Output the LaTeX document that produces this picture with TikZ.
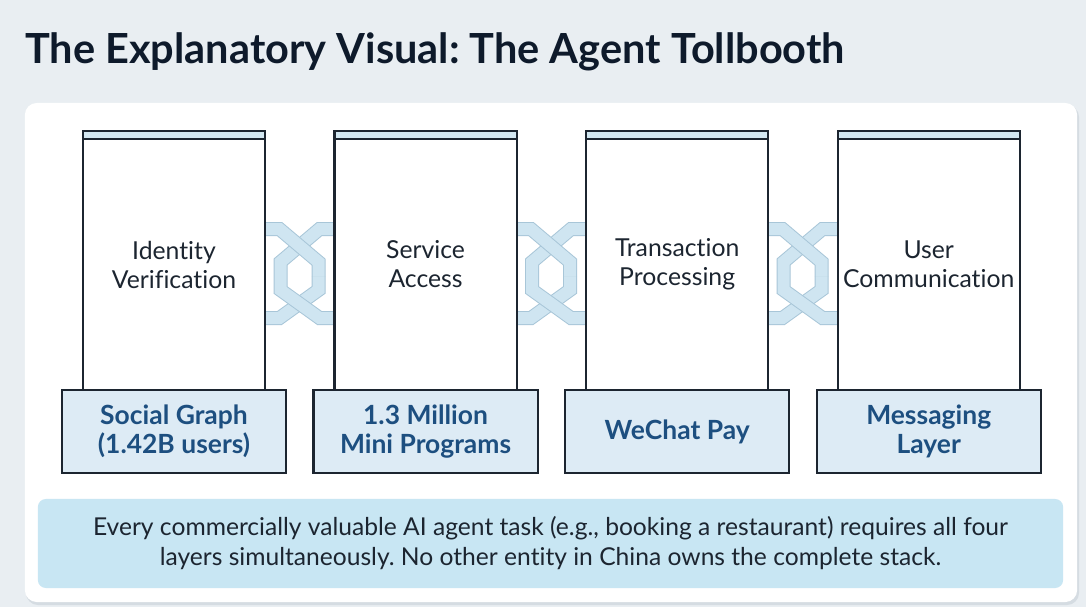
\documentclass[tikz,border=0pt]{standalone}
\usepackage{fontspec}
\setmainfont{Lato}[Ligatures=NoCommon]
\usepackage{tikz}
\usetikzlibrary{positioning}
\definecolor{Fondo}{HTML}{E9EEF2}
\definecolor{Sombra}{HTML}{D5DCE2}
\definecolor{Titulo}{HTML}{0E1A2B}
\definecolor{Tinta}{HTML}{1C2530}
\definecolor{Celeste}{HTML}{D3E8F2}
\definecolor{CelesteBase}{HTML}{DDEBF5}
\definecolor{AzulOscuro}{HTML}{1D4F80}
\definecolor{Cadena}{HTML}{CFE5F1}
\definecolor{CadenaBorde}{HTML}{A8C6D8}
\definecolor{Banda}{HTML}{C8E6F3}
\frenchspacing

\begin{document}
\begin{tikzpicture}[
  x=0.025cm,y=-0.025cm,
  pilar/.style={draw=Tinta,line width=1.5pt,fill=white,minimum width=4.55cm,minimum height=6.275cm,
                inner sep=0pt,align=center,text=Tinta,font=\fontsize{17.6}{20.6}\selectfont},
  tapa/.style={draw=Tinta,line width=1.5pt,fill=Celeste,minimum width=4.55cm,minimum height=0.2cm,inner sep=0pt},
  zocalo/.style={draw=Tinta,line width=1.5pt,fill=CelesteBase,minimum width=5.6cm,minimum height=2.075cm,
                 inner sep=0pt,align=center,text=AzulOscuro,font=\fontsize{18.8}{20.6}\selectfont\bfseries},
  hilo/.style={draw=CadenaBorde,line width=0.35cm,postaction={draw=Cadena,line width=0.3cm}}
]
  \useasboundingbox[fill=Fondo] (0,0) rectangle (1086,607);
  \node[anchor=base west,inner sep=0pt,text=Titulo,font=\fontsize{29.5}{34}\selectfont\bfseries]
    (titulo) at (25,63) {The Explanatory Visual: The Agent Tollbooth};

  \fill[Sombra,rounded corners=0.3cm] (26,105) rectangle (1079,605);
  \node[fill=white,rounded corners=0.3cm,minimum width=26.3cm,minimum height=12.475cm]
    (panel) at (551,352.5) {};

  % eslabones entre pilares
  \begin{scope}[shift={(299.5,0)}]
    \draw[hilo] (19,276)--(19,290)--(-20,318)--(-38,318);
    \draw[hilo] (38,229)--(20,229)--(-19,262)--(-19,290)--(20,318)--(38,318);
    \draw[hilo] (-38,229)--(-20,229)--(19,262)--(19,276);
  \end{scope}
  \begin{scope}[shift={(551,0)}]
    \draw[hilo] (19,276)--(19,290)--(-20,318)--(-38,318);
    \draw[hilo] (38,229)--(20,229)--(-19,262)--(-19,290)--(20,318)--(38,318);
    \draw[hilo] (-38,229)--(-20,229)--(19,262)--(19,276);
  \end{scope}
  \begin{scope}[shift={(802.5,0)}]
    \draw[hilo] (19,276)--(19,290)--(-20,318)--(-38,318);
    \draw[hilo] (38,229)--(20,229)--(-19,262)--(-19,290)--(20,318)--(38,318);
    \draw[hilo] (-38,229)--(-20,229)--(19,262)--(19,276);
  \end{scope}

  \node[pilar] (p1) at (174,264.5) {Identity\\Verification};
  \node[pilar,right=1.685cm of p1] (p2) {Service\\Access};
  \node[pilar,right=1.685cm of p2] (p3) {Transaction\\Processing};
  \node[pilar,right=1.685cm of p3] (p4) {User\\Communication};

  \node[tapa,above=-1.5pt of p1] (t1) {};
  \node[tapa,above=-1.5pt of p2] (t2) {};
  \node[tapa,above=-1.5pt of p3] (t3) {};
  \node[tapa,above=-1.5pt of p4] (t4) {};

  \node[zocalo,below=-1.5pt of p1] (z1) {Social Graph\\(1.42B users)};
  \node[zocalo,below=-1.5pt of p2] (z2) {1.3 Million\\Mini Programs};
  \node[zocalo,below=-1.5pt of p3] (z3) {WeChat Pay};
  \node[zocalo,below=-1.5pt of p4] (z4) {Messaging\\Layer};

  \node[fill=Banda,rounded corners=0.2cm,minimum width=25.625cm,minimum height=2.225cm,align=center,
        text=Tinta,font=\fontsize{17.5}{21.3}\selectfont] (nota) at (550.5,543.5)
    {Every commercially valuable AI agent task (e.g., booking a restaurant) requires all four\\
     layers simultaneously. No other entity in China owns the complete stack.};
\end{tikzpicture}
\end{document}
